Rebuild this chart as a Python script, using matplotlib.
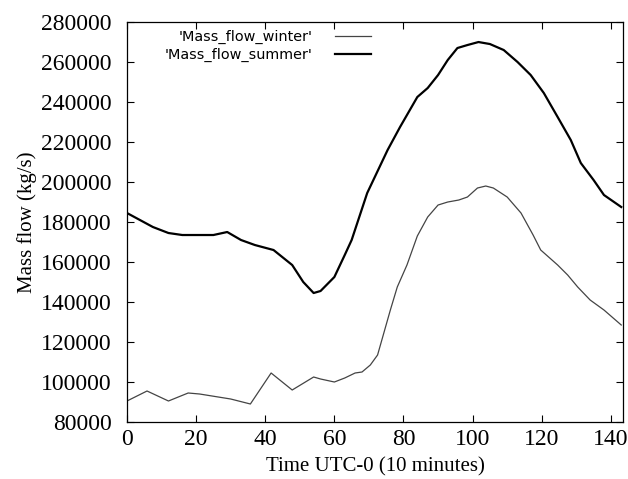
import matplotlib
matplotlib.use('Agg')
import matplotlib.pyplot as plt

# time steps (10 minutes) and mass flow (kg/s)
t_summer = [0, 7.5, 12, 16, 20, 25, 29, 33, 37, 42.4, 47.8, 51, 54, 56, 60, 63, 65,
            69.5, 75.4, 79, 84, 87, 90, 92.8, 95.6, 98.5, 101.7, 105, 109, 113,
            116.8, 120.6, 124.6, 128.4, 131.3, 135, 138, 143]
summer = [184500, 177500, 174500, 173500, 173500, 173500, 175000, 171000, 168500,
          166000, 158500, 150000, 144500, 145500, 152500, 163500, 171000,
          194500, 216000, 227500, 242500, 247000, 253500, 261000, 267000, 268500,
          270000, 269000, 266000, 260000, 253500, 244500, 232500, 221000, 209500,
          201000, 193500, 187500]

t_winter = [0, 5.8, 12, 17.7, 21, 30, 35.7, 41.7, 47.8, 54, 56, 60, 63, 66, 68,
            70.4, 72.5, 76.2, 78.2, 81, 84, 87, 90, 92.8, 96, 98.5, 101.4, 103.8,
            106, 110, 114, 117.5, 119.7, 124.6, 127.5, 130.4, 134, 138, 143]
winter = [90500, 95500, 90500, 94500, 94000, 91500, 89000, 104500, 96000, 102500,
          101500, 100000, 102000, 104500, 105000, 108500, 113500, 136000, 147500,
          158500, 173000, 182500, 188500, 190000, 191000, 192500, 197000, 198000,
          197000, 192500, 184500, 173500, 166000, 158500, 153500, 147500, 141000,
          136000, 128500]

x_ticks = [0, 20, 40, 60, 80, 100, 120, 140]
y_ticks = [80000, 100000, 120000, 140000, 160000, 180000, 200000, 220000,
           240000, 260000, 280000]

fig = plt.figure(figsize=(6.28, 4.79), dpi=100)
ax = fig.add_axes([0.2022, 0.119, 0.7898, 0.835])

ax.plot(t_winter, winter, color='#444444', lw=0.9, label="'Mass_flow_winter'")
ax.plot(t_summer, summer, color='black', lw=1.6, label="'Mass_flow_summer'")

ax.set_xlim(0, 143.5)
ax.set_ylim(80000, 280000)
ax.set_xticks(x_ticks)
ax.set_yticks(y_ticks)

serif = 'Liberation Serif'
ax.set_xticklabels([str(v) for v in x_ticks], fontfamily=serif, fontsize=17)
ax.set_yticklabels([str(v) for v in y_ticks], fontfamily=serif, fontsize=17)
ax.tick_params(direction='in', length=5, width=0.8, top=True, right=True)
ax.tick_params(axis='x', pad=5)
ax.tick_params(axis='y', pad=11)
ax.set_xlabel('Time UTC-0 (10 minutes)', fontfamily=serif, fontsize=15, labelpad=5)
ax.set_ylabel('Mass flow (kg/s)', fontfamily=serif, fontsize=15, labelpad=3)

for s in ax.spines.values():
    s.set_linewidth(0.9)

leg = ax.legend(loc='upper right', bbox_to_anchor=(0.519, 1.013), frameon=False,
                markerfirst=False, handlelength=2.5, fontsize=10.4,
                labelspacing=0.25, handletextpad=1.6)

fig.savefig('out.png', dpi=100)
